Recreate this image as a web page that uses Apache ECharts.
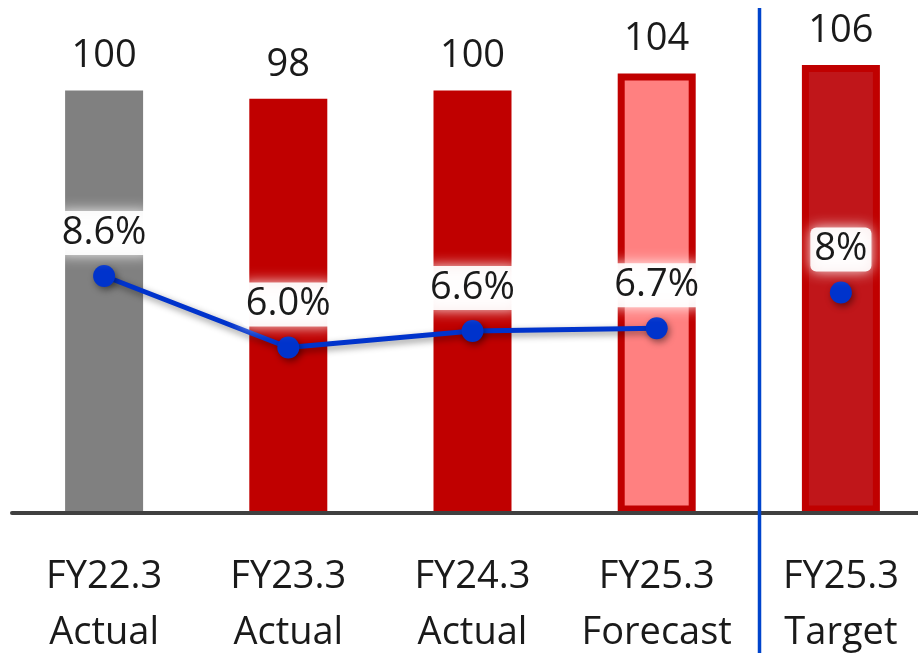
<!DOCTYPE html>
<html>
<head>
<meta charset="utf-8">
<script src="https://cdn.jsdelivr.net/npm/echarts@6/dist/echarts.min.js"></script>
<style>
  html, body { margin: 0; padding: 0; background: #fff; }
  #chart { width: 918px; height: 655px; }
</style>
</head>
<body>
<div id="chart"></div>
<script>
// Sales index (FY22.3 = 100) and operating margin by fiscal year
const categories = ['FY22.3\nActual', 'FY23.3\nActual', 'FY24.3\nActual', 'FY25.3\nForecast', 'FY25.3\nTarget'];
const salesIndex = [100, 98, 100, 104, 106];
const marginActual = [8.6, 6.0, 6.6, 6.7, '-'];
const marginTarget = ['-', '-', '-', '-', 8];

const FONT = '"Open Sans", "Noto Sans", sans-serif';
const TEXT = '#1a1a1a';

const barStyles = [
  { color: '#808080' },
  { color: '#C00000' },
  { color: '#C00000' },
  { color: '#FF8080', borderColor: '#C00000', borderWidth: 7 },
  { color: '#C0161A', borderColor: '#C00000', borderWidth: 7 }
];

// Margin labels sit on a soft white halo
const glowLabel = {
  show: true,
  position: 'top',
  distance: 10,
  fontFamily: FONT,
  fontSize: 38,
  color: TEXT,
  backgroundColor: 'rgba(255,255,255,0.92)',
  padding: [3, 4],
  borderRadius: 6,
  shadowColor: '#fff',
  shadowBlur: 14
};

const dropShadow = {
  shadowColor: 'rgba(0,0,0,0.45)',
  shadowBlur: 7,
  shadowOffsetX: 2,
  shadowOffsetY: 3
};

const chart = echarts.init(document.getElementById('chart'));
chart.setOption({
  animation: false,
  backgroundColor: '#fff',
  grid: { left: 12, width: 921, top: 6, height: 506.5, outerBoundsMode: 'none', containLabel: false },
  xAxis: {
    type: 'category',
    data: categories,
    z: 5,
    axisLine: { show: true, lineStyle: { color: '#404040', width: 4 } },
    axisTick: { show: false },
    axisLabel: {
      margin: 37,
      fontFamily: FONT,
      fontSize: 38,
      lineHeight: 56,
      color: TEXT,
      interval: 0
    }
  },
  yAxis: [
    { type: 'value', min: 0, max: 120, show: false, splitLine: { show: false } },
    { type: 'value', min: 0, max: 18.42, show: false, splitLine: { show: false } }
  ],
  series: [
    {
      type: 'bar',
      barWidth: 78,
      yAxisIndex: 0,
      data: salesIndex.map((v, i) => ({ value: v, itemStyle: barStyles[i] })),
      label: {
        show: true,
        position: 'top',
        distance: 15,
        fontFamily: FONT,
        fontSize: 38,
        color: TEXT
      }
    },
    {
      type: 'line',
      yAxisIndex: 1,
      data: marginActual,
      z: 4,
      symbol: 'circle',
      symbolSize: 22,
      lineStyle: Object.assign({ color: '#0033CC', width: 5 }, dropShadow),
      itemStyle: Object.assign({ color: '#0033CC' }, dropShadow),
      label: Object.assign({}, glowLabel, { formatter: p => p.value.toFixed(1) + '%' })
    },
    {
      type: 'line',
      yAxisIndex: 1,
      data: marginTarget,
      z: 4,
      symbol: 'circle',
      symbolSize: 22,
      showSymbol: true,
      lineStyle: { width: 0 },
      itemStyle: Object.assign({ color: '#0033CC' }, dropShadow),
      label: Object.assign({}, glowLabel, { formatter: p => p.value.toFixed(0) + '%' })
    }
  ]
});

// Divider between the forecast and the target columns
const xF = chart.convertToPixel({ xAxisIndex: 0 }, 3);
const xT = chart.convertToPixel({ xAxisIndex: 0 }, 4);
const xDiv = Math.round(xF + (xT - xF) * 0.555) + 0.5;
chart.setOption({
  graphic: [{
    type: 'line',
    z: 10,
    shape: { x1: xDiv, y1: 8, x2: xDiv, y2: 653 },
    style: { stroke: '#0044CC', lineWidth: 3.5 }
  }]
});
</script>
</body>
</html>
